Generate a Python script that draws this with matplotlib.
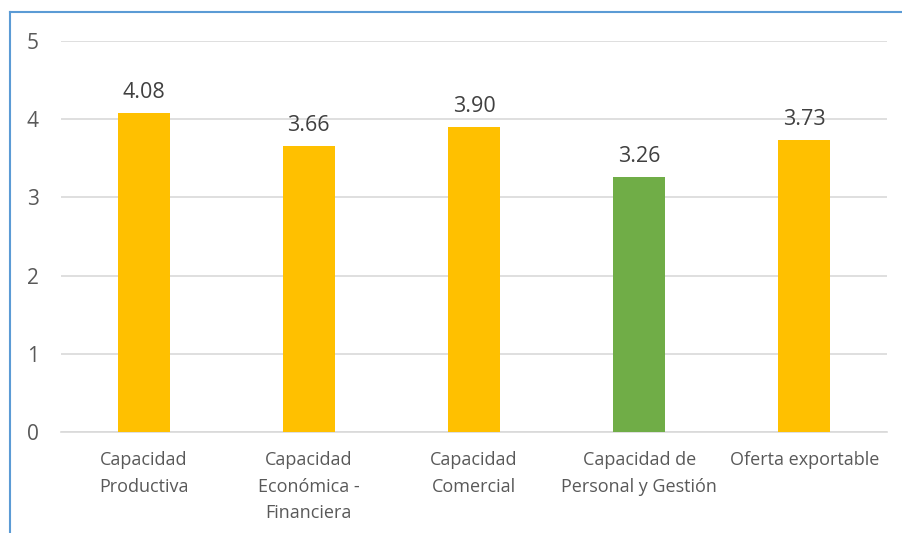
import matplotlib.pyplot as plt
from matplotlib.lines import Line2D

categories = ["Capacidad\nProductiva", "Capacidad\nEconómica -\nFinanciera",
              "Capacidad\nComercial", "Capacidad de\nPersonal y Gestión",
              "Oferta exportable"]
values = [4.08, 3.66, 3.90, 3.26, 3.73]
colors = ["#FFC000", "#FFC000", "#FFC000", "#70AD47", "#FFC000"]

plt.rcParams['font.family'] = ['Open Sans', 'DejaVu Sans']
text_color = "#595959"

fig = plt.figure(figsize=(9.02, 5.33), dpi=100)
ax = fig.add_axes([61 / 902, 1 - 432 / 533, 826 / 902, (432 - 41) / 533])

x = range(len(categories))
bars = ax.bar(x, values, width=0.315, color=colors, zorder=3)
for b, v in zip(bars, values):
    ax.text(b.get_x() + b.get_width() / 2, v + 0.13, f"{v:.2f}",
            ha="center", va="bottom", fontsize=15.5, color="#404040")

ax.set_xlim(-0.5, len(categories) - 0.5)
ax.set_ylim(0, 5)
ax.set_yticks(range(6))
ax.set_xticks(list(x))
ax.set_xticklabels(categories, fontsize=13, color=text_color, linespacing=1.6)
ax.tick_params(axis="y", labelsize=15, labelcolor=text_color, length=0, pad=16)
ax.tick_params(axis="x", length=0, pad=14)
ax.grid(axis="y", color="#D9D9D9", linewidth=1.2, zorder=0)
for s in ["top", "right", "left"]:
    ax.spines[s].set_visible(False)
ax.spines["bottom"].set_color("#D9D9D9")
ax.spines["bottom"].set_linewidth(1.2)

# chart frame (only left and top edges visible in the crop)
fig.add_artist(Line2D([9.5 / 902, 9.5 / 902], [0, 1 - 12 / 533],
                      color="#5B9BD5", linewidth=1.5))
fig.add_artist(Line2D([9.5 / 902, 1], [1 - 12 / 533, 1 - 12 / 533],
                      color="#5B9BD5", linewidth=1.5))

fig.savefig("out.png", dpi=100)
